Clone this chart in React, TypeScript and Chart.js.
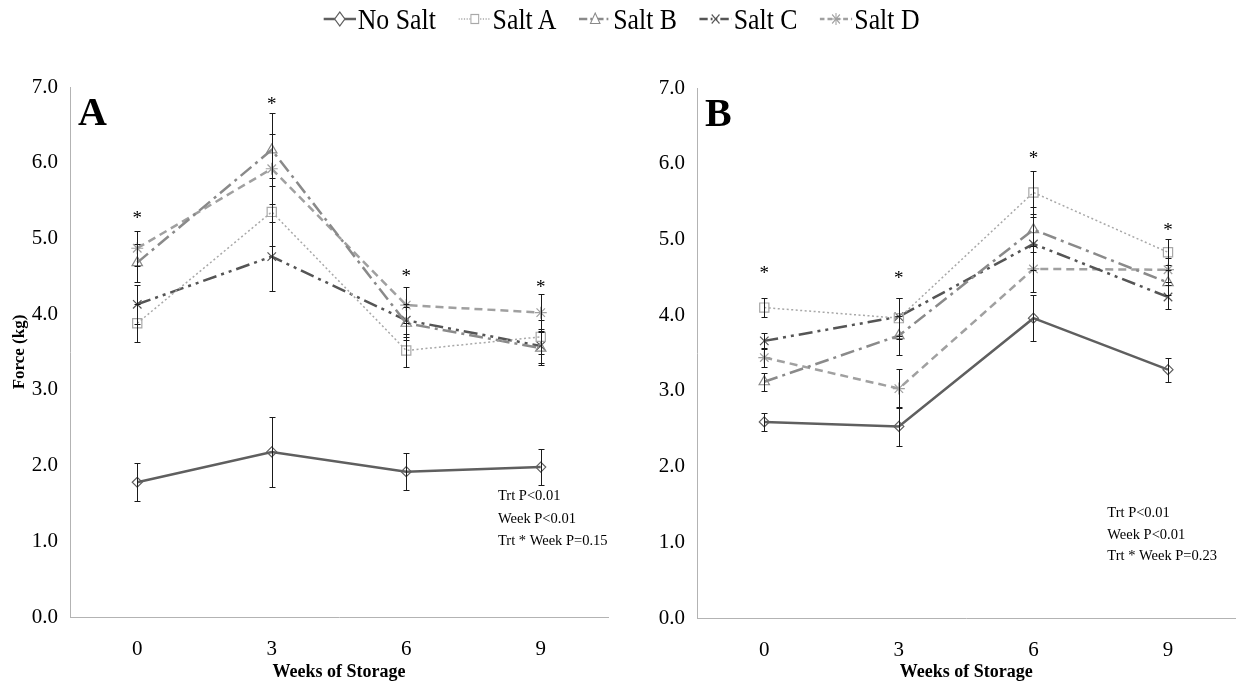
import React, { useEffect, useRef } from "react";
import { Chart, registerables } from "chart.js";

Chart.register(...registerables);

const FONT = "'Liberation Serif', 'Times New Roman', Times, serif";

// ---- categories / labels ----
const weeks = ["0", "3", "6", "9"];
const seriesNames = ["No Salt", "Salt A", "Salt B", "Salt C", "Salt D"];
const yTickValues = [0, 1, 2, 3, 4, 5, 6, 7];

// ---- Panel A values (Force, kg) ----
const noSaltA = [1.78, 2.18, 1.92, 1.98];
const saltA_A = [3.88, 5.35, 3.52, 3.7];
const saltB_A = [4.68, 6.17, 3.88, 3.55];
const saltC_A = [4.13, 4.76, 3.92, 3.58];
const saltD_A = [4.87, 5.92, 4.12, 4.02];
const noSaltErrA = [0.25, 0.46, 0.24, 0.24];
const saltAErrA = [0.25, 0.45, 0.22, 0.22];
const saltBErrA = [0.25, 0.48, 0.22, 0.22];
const saltCErrA = [0.26, 0.46, 0.22, 0.22];
const saltDErrA = [0.23, 0.46, 0.24, 0.24];
const starLevelsA = [5.31, 6.82, 4.55, 4.4];
const statsA = ["Trt P<0.01", "Week P<0.01", "Trt * Week P=0.15"];

// ---- Panel B values (Force, kg) ----
const noSaltB = [2.59, 2.53, 3.96, 3.28];
const saltA_B = [4.1, 3.96, 5.62, 4.83];
const saltB_B = [3.12, 3.73, 5.13, 4.43];
const saltC_B = [3.66, 3.98, 4.94, 4.24];
const saltD_B = [3.44, 3.03, 4.61, 4.6];
const noSaltErrB = [0.12, 0.26, 0.3, 0.16];
const saltAErrB = [0.12, 0.27, 0.29, 0.17];
const saltBErrB = [0.12, 0.26, 0.3, 0.17];
const saltCErrB = [0.11, 0.25, 0.35, 0.16];
const saltDErrB = [0.12, 0.26, 0.3, 0.16];
const starLevelsB = [4.6, 4.53, 6.12, 5.17];
const statsB = ["Trt P<0.01", "Week P<0.01", "Trt * Week P=0.23"];

// ---- series styles ----
const styles = [
  { color: "#5f5f5f", mark: "#5f5f5f", dash: [] as number[], width: 2.5, point: "rectRot", radius: 5 },
  { color: "#a8a8a8", mark: "#a8a8a8", dash: [2, 2.5], width: 1.5, point: "rect", radius: 6.5 },
  { color: "#8a8a8a", mark: "#8a8a8a", dash: [14, 5, 3, 5], width: 2.5, point: "triangle", radius: 6 },
  { color: "#555555", mark: "#555555", dash: [14, 5, 3, 5, 3, 5], width: 2.5, point: "crossRot", radius: 6 },
  { color: "#a0a0a0", mark: "#a0a0a0", dash: [8, 5], width: 2.5, point: "star", radius: 6 },
];

function buildDatasets(values: number[][], errs: number[][]) {
  return values.map((vals, i) => {
    const s = styles[i];
    return {
      label: seriesNames[i],
      data: vals,
      errors: errs[i],
      borderColor: s.color,
      borderWidth: s.width,
      borderDash: s.dash,
      backgroundColor: "rgba(0,0,0,0)",
      pointStyle: s.point,
      pointRadius: s.radius,
      pointBorderColor: s.mark,
      pointBackgroundColor: "rgba(0,0,0,0)",
      pointBorderWidth: 1.2,
      tension: 0,
      fill: false,
    } as any;
  });
}

const errorBarPlugin = {
  id: "errorBars",
  afterDatasetsDraw(chart: any) {
    const { ctx } = chart;
    const ys = chart.scales.y;
    chart.data.datasets.forEach((ds: any, i: number) => {
      const meta = chart.getDatasetMeta(i);
      meta.data.forEach((pt: any, j: number) => {
        const v = ds.data[j];
        const e = ds.errors[j];
        const top = Math.round(ys.getPixelForValue(v + e)) + 0.5;
        const bot = Math.round(ys.getPixelForValue(v - e)) + 0.5;
        const x = Math.round(pt.x) + 0.5;
        ctx.save();
        ctx.strokeStyle = "#1a1a1a";
        ctx.lineWidth = 1;
        ctx.setLineDash([]);
        ctx.beginPath();
        ctx.moveTo(x, top);
        ctx.lineTo(x, bot);
        ctx.moveTo(x - 3, top);
        ctx.lineTo(x + 3, top);
        ctx.moveTo(x - 3, bot);
        ctx.lineTo(x + 3, bot);
        ctx.stroke();
        ctx.restore();
      });
    });
  },
};

const annotationPlugin = {
  id: "panelAnnotations",
  afterDraw(chart: any, _args: any, opts: any) {
    const { ctx, chartArea } = chart;
    const xs = chart.scales.x;
    const ys = chart.scales.y;
    ctx.save();
    ctx.fillStyle = "#000";
    // panel letter
    ctx.font = `bold 40px ${FONT}`;
    ctx.textAlign = "left";
    ctx.textBaseline = "alphabetic";
    ctx.fillText(opts.letter, chartArea.left + 8, chartArea.top + 38);
    // significance stars
    ctx.font = `19px ${FONT}`;
    ctx.textAlign = "center";
    opts.stars.forEach((lvl: number, j: number) => {
      const x = xs.getPixelForValue(j);
      const y = ys.getPixelForValue(lvl);
      ctx.fillText("*", x, y + 9);
    });
    // statistics text
    ctx.font = `14.5px ${FONT}`;
    ctx.textAlign = "left";
    opts.stats.forEach((t: string, k: number) => {
      ctx.fillText(t, chartArea.right - opts.statsDx, chartArea.bottom - opts.statsDy + k * opts.statsGap);
    });
    ctx.restore();
  },
};

function makeConfig(values: number[][], errs: number[][], p: any) {
  return {
    type: "line",
    data: { labels: weeks, datasets: buildDatasets(values, errs) },
    options: {
      responsive: false,
      animation: false,
      events: [],
      layout: { padding: { top: p.top, right: p.right, left: 0, bottom: 0 } },
      plugins: {
        legend: { display: false },
        tooltip: { enabled: false },
        panelAnnotations: {
          letter: p.letter,
          stars: p.stars,
          stats: p.stats,
          statsDx: p.statsDx,
          statsDy: p.statsDy,
          statsGap: p.statsGap,
        },
      },
      scales: {
        x: {
          type: "category",
          offset: true,
          grid: { display: false, drawTicks: false },
          border: { display: true, color: "#b3b3b3", width: 1 },
          ticks: { color: "#000", font: { family: FONT, size: 21 }, padding: 20, maxRotation: 0 },
          title: {
            display: true,
            text: "Weeks of Storage",
            color: "#000",
            font: { family: FONT, size: 18, weight: "bold" },
            padding: { top: 0, bottom: 3 },
          },
          afterFit: (s: any) => {
            s.height = p.xHeight;
          },
        },
        y: {
          min: 0,
          max: 7,
          grid: { display: false, drawTicks: false },
          border: { display: true, color: "#b3b3b3", width: 1 },
          ticks: {
            color: "#000",
            font: { family: FONT, size: 21 },
            padding: 12,
            callback: (v: any) => Number(v).toFixed(1),
          },
          afterBuildTicks: (s: any) => {
            s.ticks = yTickValues.map((v) => ({ value: v }));
          },
          title: {
            display: p.yTitle,
            text: "Force (kg)",
            color: "#000",
            font: { family: FONT, size: 17, weight: "bold" },
            padding: { top: 9, bottom: 0 },
          },
          afterFit: (s: any) => {
            s.width = p.yWidth;
          },
        },
      },
    },
    plugins: [errorBarPlugin, annotationPlugin],
  } as any;
}

function Panel(props: { left: number; width: number; config: any }) {
  const ref = useRef<HTMLCanvasElement>(null);
  useEffect(() => {
    const chart = new Chart(ref.current as HTMLCanvasElement, props.config);
    return () => chart.destroy();
  }, []);
  return (
    <canvas
      ref={ref}
      width={props.width}
      height={686}
      style={{ position: "absolute", left: props.left, top: 0, width: props.width, height: 686 }}
    />
  );
}

function LegendSymbol({ idx }: { idx: number }) {
  const s = styles[idx];
  const c = s.color;
  const dash = s.dash.length ? s.dash.map((d) => d * 0.7).join(" ") : undefined;
  let marker: any = null;
  if (s.point === "rectRot") marker = <polygon points="19,4 25,11 19,18 13,11" fill="#fff" stroke={c} strokeWidth={1.2} />;
  else if (s.point === "rect") marker = <rect x={14.5} y={6.5} width={9} height={9} fill="#fff" stroke={c} strokeWidth={1.2} />;
  else if (s.point === "triangle") marker = <polygon points="19,5 24.5,15.5 13.5,15.5" fill="#fff" stroke={c} strokeWidth={1.2} />;
  else if (s.point === "crossRot")
    marker = (
      <g stroke={c} strokeWidth={1.3}>
        <line x1={14.5} y1={6.5} x2={23.5} y2={15.5} />
        <line x1={23.5} y1={6.5} x2={14.5} y2={15.5} />
      </g>
    );
  else
    marker = (
      <g stroke={c} strokeWidth={1.2}>
        <line x1={14.5} y1={6.5} x2={23.5} y2={15.5} />
        <line x1={23.5} y1={6.5} x2={14.5} y2={15.5} />
        <line x1={19} y1={5} x2={19} y2={17} />
        <line x1={13} y1={11} x2={25} y2={11} />
      </g>
    );
  return (
    <svg width={38} height={22} style={{ display: "block" }}>
      <line x1={0} y1={11} x2={38} y2={11} stroke={c} strokeWidth={s.width} strokeDasharray={dash} />
      {marker}
    </svg>
  );
}

export default function App() {
  const cfgA = makeConfig(
    [noSaltA, saltA_A, saltB_A, saltC_A, saltD_A],
    [noSaltErrA, saltAErrA, saltBErrA, saltCErrA, saltDErrA],
    {
      top: 87,
      right: 12,
      xHeight: 69,
      yWidth: 70,
      yTitle: true,
      letter: "A",
      stars: starLevelsA,
      stats: statsA,
      statsDx: 110,
      statsDy: 117,
      statsGap: 22.5,
    }
  );
  const cfgB = makeConfig(
    [noSaltB, saltA_B, saltB_B, saltC_B, saltD_B],
    [noSaltErrB, saltAErrB, saltBErrB, saltCErrB, saltDErrB],
    {
      top: 88,
      right: 2,
      xHeight: 68,
      yWidth: 77,
      yTitle: false,
      letter: "B",
      stars: starLevelsB,
      stats: statsB,
      statsDx: 128,
      statsDy: 101,
      statsGap: 21.5,
    }
  );
  return (
    <div style={{ position: "absolute", left: 0, top: 0, width: 1243, height: 686, background: "#fff", overflow: "hidden" }}>
      <Panel left={0} width={620} config={cfgA} />
      <Panel left={620} width={623} config={cfgB} />
      <div
        style={{
          position: "absolute",
          left: 0,
          top: 0,
          width: 1243,
          height: 38,
          display: "flex",
          justifyContent: "center",
          alignItems: "center",
          gap: 26,
          fontFamily: FONT,
          fontSize: 30,
          color: "#000",
          transform: "scaleX(0.86)",
          transformOrigin: "621px 19px",
        }}
      >
        {seriesNames.map((n, i) => (
          <div key={n} style={{ display: "flex", alignItems: "center", gap: 2 }}>
            <LegendSymbol idx={i} />
            <span style={{ lineHeight: "34px" }}>{n}</span>
          </div>
        ))}
      </div>
    </div>
  );
}
